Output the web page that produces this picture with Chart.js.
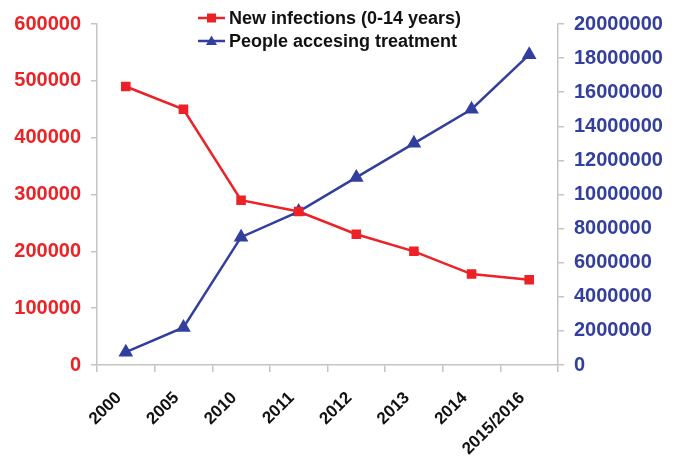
<!DOCTYPE html>
<html>
<head>
<meta charset="utf-8">
<script src="https://cdn.jsdelivr.net/npm/chart.js@4/dist/chart.umd.min.js"></script>
<style>
  html, body { margin: 0; padding: 0; background: #ffffff; }
  #wrap { width: 680px; height: 457px; position: relative; }
</style>
</head>
<body>
<div id="wrap"><canvas id="c" width="680" height="457"></canvas></div>
<script>
// Categories (years) along the bottom axis
const years = ['2000', '2005', '2010', '2011', '2012', '2013', '2014', '2015/2016'];

// New HIV infections among children aged 0-14 (left axis)
const newInfections = [490000, 450000, 290000, 270000, 230000, 200000, 160000, 150000];

// People accessing antiretroviral treatment (right axis)
const peopleOnTreatment = [750000, 2200000, 7500000, 9000000, 11000000, 13000000, 15000000, 18200000];

// Axis tick values
const leftTicks = [0, 100000, 200000, 300000, 400000, 500000, 600000];
const rightTicks = [0, 2000000, 4000000, 6000000, 8000000, 10000000, 12000000, 14000000, 16000000, 18000000, 20000000];

const RED = '#ec2227';
const BLUE = '#323f9e';
const AXIS = '#c4c4c4';
const FONT = '"Liberation Sans", Arial, Helvetica, sans-serif';

// Two-row legend drawn at the top centre
const stackedLegend = {
  id: 'stackedLegend',
  afterDraw(chart) {
    const ctx = chart.ctx;
    ctx.save();
    chart.data.datasets.forEach((ds, i) => {
      const y = 18 + i * 23;
      const x0 = 198, x1 = 225;
      ctx.strokeStyle = ds.borderColor;
      ctx.lineWidth = 2.5;
      ctx.beginPath();
      ctx.moveTo(x0, y);
      ctx.lineTo(x1, y);
      ctx.stroke();
      const cx = (x0 + x1) / 2;
      ctx.fillStyle = ds.backgroundColor;
      ctx.beginPath();
      if (ds.pointStyle === 'rect') {
        ctx.rect(cx - 4.5, y - 4.5, 9, 9);
      } else {
        ctx.moveTo(cx, y - 5.5);
        ctx.lineTo(cx + 5.5, y + 4);
        ctx.lineTo(cx - 5.5, y + 4);
        ctx.closePath();
      }
      ctx.fill();
      ctx.fillStyle = '#111111';
      ctx.font = 'bold 18px ' + FONT;
      ctx.textAlign = 'left';
      ctx.textBaseline = 'middle';
      ctx.fillText(ds.label, 229, y + 1);
    });
    ctx.restore();
  }
};

const plain = v => String(v);

new Chart(document.getElementById('c'), {
  type: 'line',
  data: {
    labels: years,
    datasets: [
      {
        label: 'New infections (0-14 years)',
        data: newInfections,
        yAxisID: 'yLeft',
        borderColor: RED,
        backgroundColor: RED,
        borderWidth: 2.5,
        pointStyle: 'rect',
        pointRadius: 5,
        pointHoverRadius: 5,
        tension: 0
      },
      {
        label: 'People accesing treatment',
        data: peopleOnTreatment,
        yAxisID: 'yRight',
        borderColor: BLUE,
        backgroundColor: BLUE,
        borderWidth: 2.5,
        pointStyle: 'triangle',
        pointRadius: 6,
        pointHoverRadius: 6,
        tension: 0
      }
    ]
  },
  plugins: [stackedLegend],
  options: {
    responsive: false,
    animation: false,
    layout: { padding: { top: 24, left: 0, right: 0, bottom: 0 } },
    plugins: {
      legend: { display: false },
      tooltip: { enabled: false }
    },
    scales: {
      x: {
        offset: true,
        grid: {
          offset: true,
          drawOnChartArea: false,
          color: AXIS,
          tickLength: 7,
          lineWidth: 1.5
        },
        border: { color: AXIS, width: 1.5 },
        ticks: {
          color: '#111111',
          font: { family: FONT, size: 17, weight: 'bold' },
          minRotation: 45,
          maxRotation: 45,
          padding: 16,
          labelOffset: -7
        },
        afterFit(scale) { scale.height = 92; }
      },
      yLeft: {
        position: 'left',
        min: 0,
        max: 600000,
        afterBuildTicks(scale) { scale.ticks = leftTicks.map(v => ({ value: v })); },
        grid: { drawOnChartArea: false, color: AXIS, tickLength: 6, lineWidth: 1.5 },
        border: { color: AXIS, width: 1.5 },
        ticks: {
          color: RED,
          font: { family: FONT, size: 20, weight: 'bold' },
          padding: 10,
          callback: plain
        },
        afterFit(scale) { scale.width = 97; }
      },
      yRight: {
        position: 'right',
        min: 0,
        max: 20000000,
        afterBuildTicks(scale) { scale.ticks = rightTicks.map(v => ({ value: v })); },
        grid: { drawOnChartArea: false, color: AXIS, tickLength: 6, lineWidth: 1.5 },
        border: { color: AXIS, width: 1.5 },
        ticks: {
          color: BLUE,
          font: { family: FONT, size: 20, weight: 'bold' },
          padding: 10,
          callback: plain
        },
        afterFit(scale) { scale.width = 122; }
      }
    }
  }
});
</script>
</body>
</html>
